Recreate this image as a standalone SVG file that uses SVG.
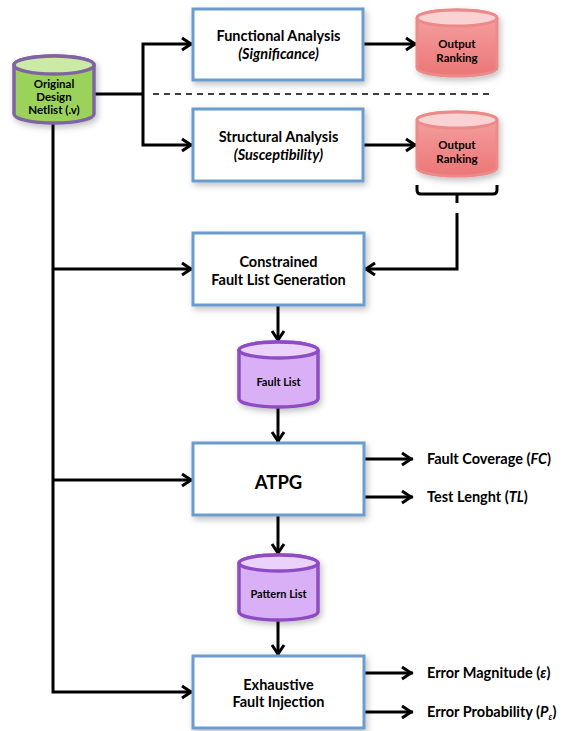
<svg xmlns="http://www.w3.org/2000/svg" width="568" height="731" viewBox="0 0 568 731">
<defs>
<style>
.box{fill:#fff;stroke:#6b9ccf;stroke-width:3}
.t{font-family:Lato,"Open Sans","Liberation Sans",sans-serif;font-weight:bold;fill:#000;text-anchor:middle}
.bt{font-size:14.5px}
.ct{font-size:11.5px}
.lt{font-family:Lato,"Open Sans","Liberation Sans",sans-serif;font-weight:bold;fill:#000;font-size:14.5px}
.c{fill:none;stroke:#000;stroke-width:3}
.a{marker-end:url(#arr)}
.g{fill:#9bd35a;stroke:#8064a2;stroke-width:3.5}
.gt{fill:#cbeaa6;stroke:#8064a2;stroke-width:3.5}
.r{fill:url(#redg);stroke:#ec8a8a;stroke-width:3}
.rt{fill:#f9d3d3;stroke:#ec8a8a;stroke-width:3}
.p{fill:#d9b0f6;stroke:#8e4cc4;stroke-width:3.5}
.pt{fill:#ead2fb;stroke:#8e4cc4;stroke-width:3.5}
</style>
<linearGradient id="redg" x1="0" y1="0" x2="0" y2="1">
<stop offset="0" stop-color="#f5a3a3"/>
<stop offset="1" stop-color="#ec7676"/>
</linearGradient>
<filter id="sh" x="-20%" y="-20%" width="150%" height="160%">
<feDropShadow dx="2" dy="3" stdDeviation="3" flood-color="#000" flood-opacity="0.25"/>
</filter>
<marker id="arr" markerUnits="userSpaceOnUse" viewBox="-14 -9 16 18" markerWidth="16" markerHeight="18" refX="0" refY="0" orient="auto" overflow="visible">
<path d="M-11,-6 L-2,0 L-11,6" fill="none" stroke="#000" stroke-width="3"/>
</marker>
</defs>
<rect width="568" height="731" fill="#fff"/>

<g id="connectors">
<path class="c" d="M94,94 H143"/>
<path class="c a" d="M143,94 V44 H193"/>
<path class="c a" d="M143,94 V145 H193"/>
<path class="c a" d="M363,44 H417"/>
<path class="c a" d="M363,145 H417"/>
<path d="M153,94 H490" fill="none" stroke="#000" stroke-width="1.5" stroke-dasharray="6 5"/>
<path class="c" d="M417,185 V190 Q417,194 421,194 H493 Q497,194 497,190 V185"/>
<path class="c" d="M457,194 V203"/>
<path class="c a" d="M457,213 V269 H364"/>
<path class="c a" d="M53,123 V692 H193"/>
<path class="c a" d="M53,269 H193"/>
<path class="c a" d="M53,480 H193"/>
<path class="c a" d="M278,305 V342"/>
<path class="c a" d="M278,407 V443"/>
<path class="c a" d="M278,515 V555"/>
<path class="c a" d="M278,620 V656"/>
<path class="c a" d="M364,459 H413"/>
<path class="c a" d="M364,497 H413"/>
<path class="c a" d="M364,673 H413"/>
<path class="c a" d="M364,712 H413"/>
</g>

<g id="original">
<g filter="url(#sh)">
<path class="g" d="M14,65 V114 A40,9 0 0 0 94,114 V65 A40,9 0 0 0 14,65 Z"/>
<ellipse class="gt" cx="54" cy="65" rx="40" ry="9"/>
</g>
<text class="t ct" x="54" y="88">Original</text>
<text class="t ct" x="54" y="101">Design</text>
<text class="t ct" x="54" y="114">Netlist (.v)</text>
</g>

<g id="functional">
<rect class="box" x="193" y="9" width="170" height="71" filter="url(#sh)"/>
<text class="t bt" x="278.5" y="41">Functional Analysis</text>
<text class="t bt" x="278.5" y="59" font-style="italic">(Significance)</text>
</g>

<g id="structural">
<rect class="box" x="193" y="109" width="170" height="72" filter="url(#sh)"/>
<text class="t bt" x="278.5" y="142">Structural Analysis</text>
<text class="t bt" x="278.5" y="160" font-style="italic">(Susceptibility)</text>
</g>

<g id="output1">
<g filter="url(#sh)">
<path class="r" d="M417,18 V68 A40,8 0 0 0 497,68 V18 A40,8 0 0 0 417,18 Z"/>
<ellipse class="rt" cx="457" cy="18" rx="40" ry="8"/>
</g>
<text class="t ct" x="457" y="48">Output</text>
<text class="t ct" x="457" y="62">Ranking</text>
</g>

<g id="output2">
<g filter="url(#sh)">
<path class="r" d="M417,120 V168 A40,8 0 0 0 497,168 V120 A40,8 0 0 0 417,120 Z"/>
<ellipse class="rt" cx="457" cy="120" rx="40" ry="8"/>
</g>
<text class="t ct" x="457" y="149">Output</text>
<text class="t ct" x="457" y="163">Ranking</text>
</g>

<g id="constrained">
<rect class="box" x="193" y="233" width="171" height="72" filter="url(#sh)"/>
<text class="t bt" x="278.5" y="267">Constrained</text>
<text class="t bt" x="278.5" y="285">Fault List Generation</text>
</g>

<g id="faultlist">
<g filter="url(#sh)">
<path class="p" d="M239,350 V399 A39.5,8 0 0 0 318,399 V350 A39.5,8 0 0 0 239,350 Z"/>
<ellipse class="pt" cx="278.5" cy="350" rx="39.5" ry="8"/>
</g>
<text class="t" x="278.5" y="386" font-size="11">Fault List</text>
</g>

<g id="atpg">
<rect class="box" x="193" y="443" width="171" height="72" filter="url(#sh)"/>
<text class="t" x="278.5" y="489" font-size="18.5">ATPG</text>
</g>

<g id="patternlist">
<g filter="url(#sh)">
<path class="p" d="M239,563 V612 A39.5,8 0 0 0 318,612 V563 A39.5,8 0 0 0 239,563 Z"/>
<ellipse class="pt" cx="278.5" cy="563" rx="39.5" ry="8"/>
</g>
<text class="t" x="278.5" y="598" font-size="11">Pattern List</text>
</g>

<g id="exhaustive">
<rect class="box" x="193" y="656" width="171" height="72" filter="url(#sh)"/>
<text class="t bt" x="278.5" y="690">Exhaustive</text>
<text class="t bt" x="278.5" y="707">Fault Injection</text>
</g>

<g id="outputs">
<text class="lt" x="427" y="464">Fault Coverage (<tspan font-style="italic">FC</tspan>)</text>
<text class="lt" x="427" y="502">Test Lenght (<tspan font-style="italic">TL</tspan>)</text>
<text class="lt" x="427" y="678">Error Magnitude (<tspan font-style="italic">ε</tspan>)</text>
<text class="lt" x="427" y="717">Error Probability (<tspan font-style="italic">P</tspan><tspan font-style="italic" font-size="9" dy="3">ε</tspan><tspan dy="-3">)</tspan></text>
</g>
</svg>
